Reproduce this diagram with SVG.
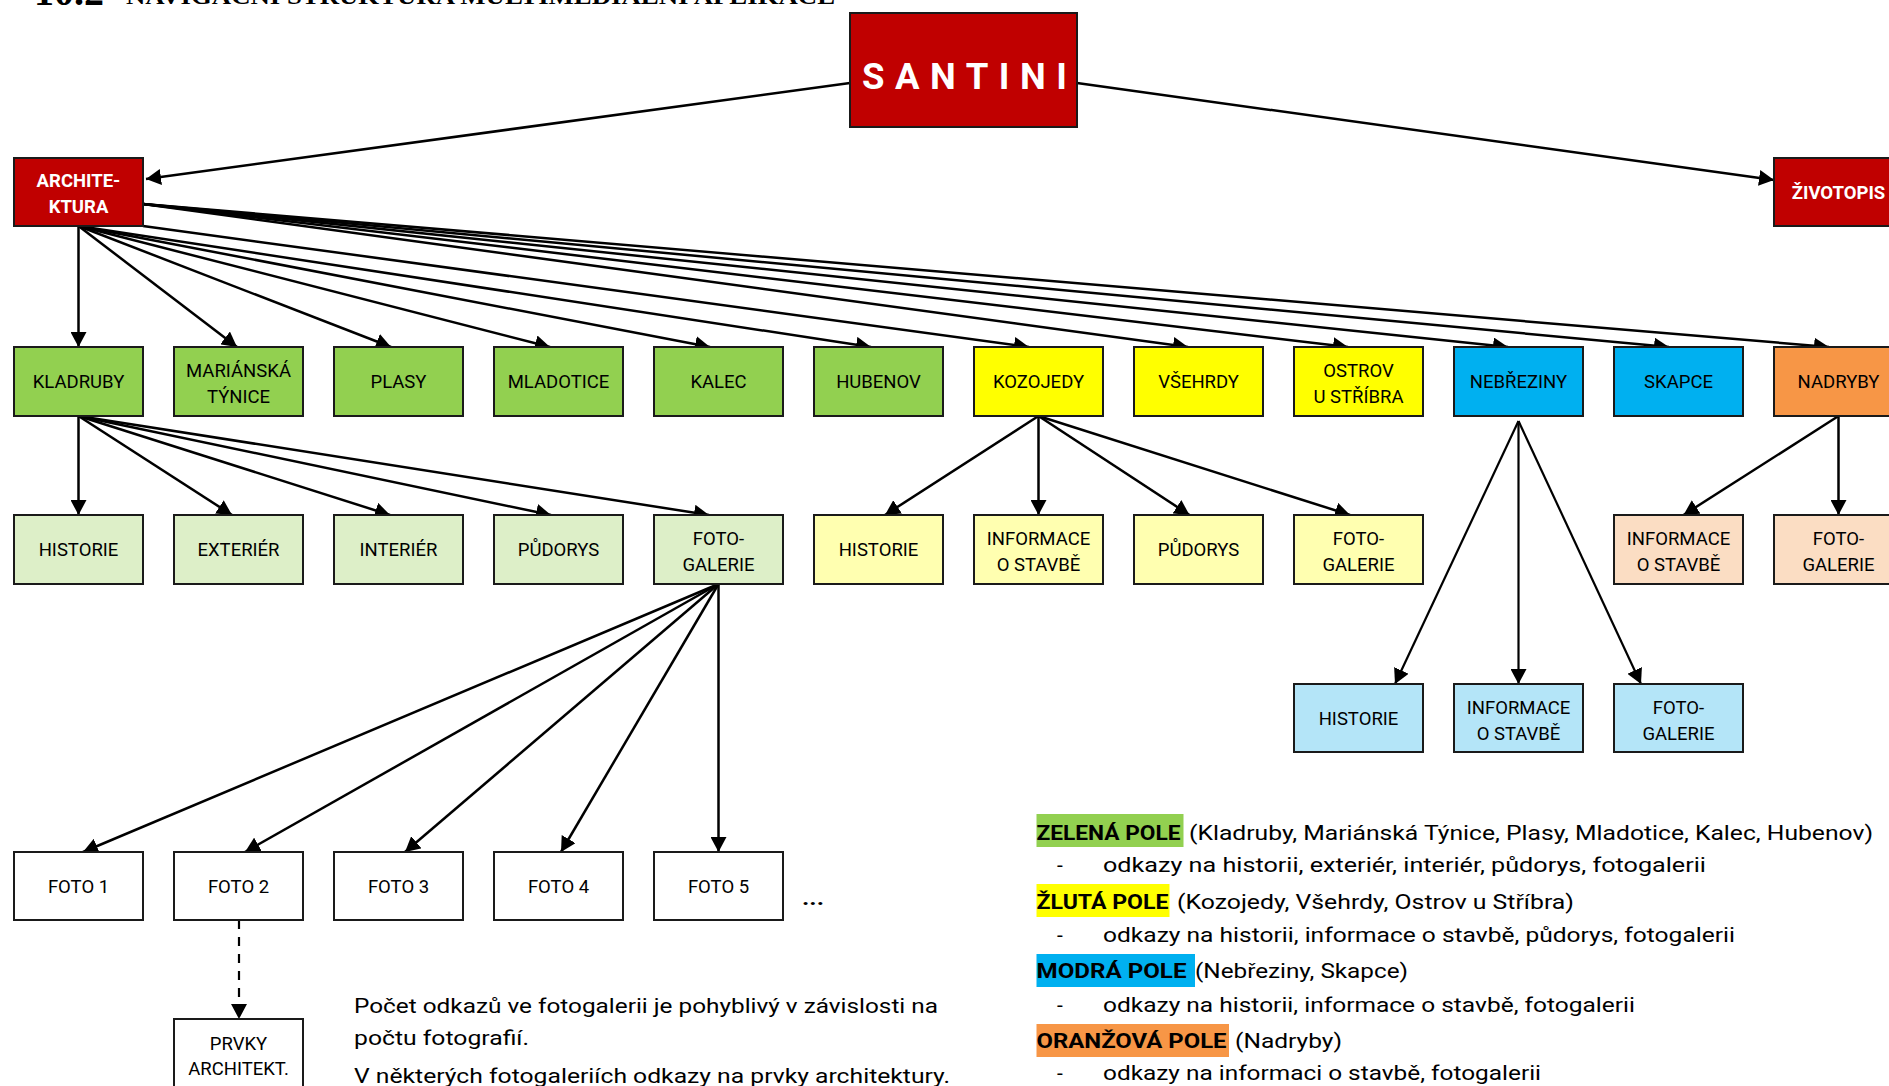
<svg xmlns="http://www.w3.org/2000/svg" width="1889" height="1086" viewBox="0 0 1889 1086">
<style>
.box{stroke:#1a1a1a;stroke-width:2}
.red{fill:#C00000}
.g{fill:#92D050}.lg{fill:#DDEFC8}
.y{fill:#FFFF00}.ly{fill:#FFFFB0}
.b{fill:#00B0F0}.lb{fill:#B4E5F8}
.o{fill:#F79646}.lo{fill:#FBDDC3}
.w{fill:#FFFFFF}
.t{font-family:Roboto,"Liberation Sans",sans-serif;font-size:18.5px;fill:#000;text-anchor:middle}
.tw{font-family:Roboto,"Liberation Sans",sans-serif;font-size:18.5px;fill:#fff;font-weight:bold;text-anchor:middle}
.lt{font-family:Roboto,"Liberation Sans",sans-serif;font-size:21px;fill:#000}
.lb2{font-family:Roboto,"Liberation Sans",sans-serif;font-size:21px;fill:#000;font-weight:bold}
.c{stroke:#000;stroke-width:2.5;fill:none;marker-end:url(#ah)}
.cn{stroke:#000;stroke-width:2.2;fill:none;marker-end:url(#ah)}
.cd{stroke:#000;stroke-width:2.2;fill:none;stroke-dasharray:9 8;marker-end:url(#ah)}
</style>
<defs>
<marker id="ah" markerUnits="userSpaceOnUse" markerWidth="16" markerHeight="16" refX="15" refY="8" orient="auto">
<path d="M0,0 L15,8 L0,16 z" fill="#000"/>
</marker>
</defs>
<rect width="1889" height="1086" fill="#fff"/>

<g id="title">
<text x="34" y="5" font-family="'Liberation Serif',serif" font-weight="bold" font-size="40">10.2</text>
<text x="126" y="4" font-family="'Liberation Serif',serif" font-weight="bold" font-size="24" textLength="709" lengthAdjust="spacingAndGlyphs">NAVIGAČNÍ STRUKTURA MULTIMEDIÁLNÍ APLIKACE</text>
</g>

<g id="connectors">
<line class="c" x1="850" y1="83" x2="146" y2="179"/>
<line class="c" x1="1077" y1="83" x2="1774" y2="180"/>
<line class="c" x1="78.5" y1="226" x2="78.5" y2="347"/>
<line class="c" x1="78.5" y1="226" x2="237" y2="347"/>
<line class="c" x1="78.5" y1="226" x2="391" y2="347"/>
<line class="c" x1="78.5" y1="226" x2="550" y2="347"/>
<line class="c" x1="78.5" y1="226" x2="710" y2="347"/>
<line class="c" x1="78.5" y1="226" x2="871" y2="347"/>
<line class="c" x1="143" y1="226" x2="1029" y2="347"/>
<line class="c" x1="143" y1="204" x2="1188" y2="347"/>
<line class="c" x1="143" y1="204" x2="1348" y2="347"/>
<line class="c" x1="143" y1="204" x2="1508" y2="347"/>
<line class="c" x1="143" y1="204" x2="1669" y2="347"/>
<line class="c" x1="143" y1="204" x2="1829" y2="347"/>
<line class="c" x1="78.5" y1="416" x2="78.5" y2="515"/>
<line class="c" x1="78.5" y1="416" x2="232" y2="515"/>
<line class="c" x1="78.5" y1="416" x2="390" y2="515"/>
<line class="c" x1="78.5" y1="416" x2="551" y2="515"/>
<line class="c" x1="78.5" y1="416" x2="709" y2="515"/>
<line class="c" x1="1038.5" y1="416" x2="885" y2="515"/>
<line class="c" x1="1038.5" y1="416" x2="1038.5" y2="515"/>
<line class="c" x1="1038.5" y1="416" x2="1189.5" y2="515"/>
<line class="c" x1="1038.5" y1="416" x2="1350" y2="515"/>
<line class="cn" x1="1518.5" y1="421" x2="1395" y2="684"/>
<line class="cn" x1="1518.5" y1="421" x2="1518.5" y2="684"/>
<line class="cn" x1="1518.5" y1="421" x2="1641" y2="684"/>
<line class="c" x1="1838.5" y1="416" x2="1683.5" y2="515"/>
<line class="c" x1="1838.5" y1="416" x2="1838.5" y2="515"/>
<line class="c" x1="718.5" y1="584" x2="83" y2="852"/>
<line class="c" x1="718.5" y1="584" x2="245" y2="852"/>
<line class="c" x1="718.5" y1="584" x2="405" y2="852"/>
<line class="c" x1="718.5" y1="584" x2="561" y2="852"/>
<line class="c" x1="718.5" y1="584" x2="718.5" y2="852"/>
<line class="cd" x1="239" y1="920" x2="239" y2="1019"/>
</g>

<g id="santini"><rect class="box red" x="850" y="13" width="227" height="114"/>
<text x="862" y="89" font-family="Roboto,'Liberation Sans',sans-serif" font-weight="bold" font-size="36.5" fill="#fff" letter-spacing="10.5">SANTINI</text></g>
<g id="architektura"><rect class="box red" x="14" y="158" width="129" height="68"/>
<text class="tw" x="78.5" y="187">ARCHITE-</text><text class="tw" x="78.5" y="213">KTURA</text></g>
<g id="zivotopis"><rect class="box red" x="1774" y="158" width="129" height="68"/>
<text class="tw" x="1838.5" y="199">ŽIVOTOPIS</text></g>

<g id="kladruby"><rect class="box g" x="14" y="347" width="129" height="69"/><text class="t" x="78.5" y="388">KLADRUBY</text></g>
<g id="marianska"><rect class="box g" x="174" y="347" width="129" height="69"/><text class="t" x="238.5" y="377">MARIÁNSKÁ</text><text class="t" x="238.5" y="403">TÝNICE</text></g>
<g id="plasy"><rect class="box g" x="334" y="347" width="129" height="69"/><text class="t" x="398.5" y="388">PLASY</text></g>
<g id="mladotice"><rect class="box g" x="494" y="347" width="129" height="69"/><text class="t" x="558.5" y="388">MLADOTICE</text></g>
<g id="kalec"><rect class="box g" x="654" y="347" width="129" height="69"/><text class="t" x="718.5" y="388">KALEC</text></g>
<g id="hubenov"><rect class="box g" x="814" y="347" width="129" height="69"/><text class="t" x="878.5" y="388">HUBENOV</text></g>
<g id="kozojedy"><rect class="box y" x="974" y="347" width="129" height="69"/><text class="t" x="1038.5" y="388">KOZOJEDY</text></g>
<g id="vsehrdy"><rect class="box y" x="1134" y="347" width="129" height="69"/><text class="t" x="1198.5" y="388">VŠEHRDY</text></g>
<g id="ostrov"><rect class="box y" x="1294" y="347" width="129" height="69"/><text class="t" x="1358.5" y="377">OSTROV</text><text class="t" x="1358.5" y="403">U STŘÍBRA</text></g>
<g id="nebreziny"><rect class="box b" x="1454" y="347" width="129" height="69"/><text class="t" x="1518.5" y="388">NEBŘEZINY</text></g>
<g id="skapce"><rect class="box b" x="1614" y="347" width="129" height="69"/><text class="t" x="1678.5" y="388">SKAPCE</text></g>
<g id="nadryby"><rect class="box o" x="1774" y="347" width="129" height="69"/><text class="t" x="1838.5" y="388">NADRYBY</text></g>

<g id="kl-historie"><rect class="box lg" x="14" y="515" width="129" height="69"/><text class="t" x="78.5" y="556">HISTORIE</text></g>
<g id="kl-exterier"><rect class="box lg" x="174" y="515" width="129" height="69"/><text class="t" x="238.5" y="556">EXTERIÉR</text></g>
<g id="kl-interier"><rect class="box lg" x="334" y="515" width="129" height="69"/><text class="t" x="398.5" y="556">INTERIÉR</text></g>
<g id="kl-pudorys"><rect class="box lg" x="494" y="515" width="129" height="69"/><text class="t" x="558.5" y="556">PŮDORYS</text></g>
<g id="kl-fotogalerie"><rect class="box lg" x="654" y="515" width="129" height="69"/><text class="t" x="718.5" y="545">FOTO-</text><text class="t" x="718.5" y="571">GALERIE</text></g>
<g id="ko-historie"><rect class="box ly" x="814" y="515" width="129" height="69"/><text class="t" x="878.5" y="556">HISTORIE</text></g>
<g id="ko-informace"><rect class="box ly" x="974" y="515" width="129" height="69"/><text class="t" x="1038.5" y="545">INFORMACE</text><text class="t" x="1038.5" y="571">O STAVBĚ</text></g>
<g id="ko-pudorys"><rect class="box ly" x="1134" y="515" width="129" height="69"/><text class="t" x="1198.5" y="556">PŮDORYS</text></g>
<g id="ko-fotogalerie"><rect class="box ly" x="1294" y="515" width="129" height="69"/><text class="t" x="1358.5" y="545">FOTO-</text><text class="t" x="1358.5" y="571">GALERIE</text></g>
<g id="na-informace"><rect class="box lo" x="1614" y="515" width="129" height="69"/><text class="t" x="1678.5" y="545">INFORMACE</text><text class="t" x="1678.5" y="571">O STAVBĚ</text></g>
<g id="na-fotogalerie"><rect class="box lo" x="1774" y="515" width="129" height="69"/><text class="t" x="1838.5" y="545">FOTO-</text><text class="t" x="1838.5" y="571">GALERIE</text></g>

<g id="ne-historie"><rect class="box lb" x="1294" y="684" width="129" height="68"/><text class="t" x="1358.5" y="725">HISTORIE</text></g>
<g id="ne-informace"><rect class="box lb" x="1454" y="684" width="129" height="68"/><text class="t" x="1518.5" y="714">INFORMACE</text><text class="t" x="1518.5" y="740">O STAVBĚ</text></g>
<g id="ne-fotogalerie"><rect class="box lb" x="1614" y="684" width="129" height="68"/><text class="t" x="1678.5" y="714">FOTO-</text><text class="t" x="1678.5" y="740">GALERIE</text></g>

<g id="foto1"><rect class="box w" x="14" y="852" width="129" height="68"/><text class="t" x="78.5" y="893">FOTO 1</text></g>
<g id="foto2"><rect class="box w" x="174" y="852" width="129" height="68"/><text class="t" x="238.5" y="893">FOTO 2</text></g>
<g id="foto3"><rect class="box w" x="334" y="852" width="129" height="68"/><text class="t" x="398.5" y="893">FOTO 3</text></g>
<g id="foto4"><rect class="box w" x="494" y="852" width="129" height="68"/><text class="t" x="558.5" y="893">FOTO 4</text></g>
<g id="foto5"><rect class="box w" x="654" y="852" width="129" height="68"/><text class="t" x="718.5" y="893">FOTO 5</text></g>
<text class="lb2" x="802" y="905" font-size="26" textLength="22" lengthAdjust="spacingAndGlyphs">...</text>
<g id="prvky"><rect class="box w" x="174" y="1019" width="129" height="80"/><text class="t" x="238.5" y="1050">PRVKY</text><text class="t" x="238.5" y="1075">ARCHITEKT.</text></g>

<g id="note">
<text class="lt" x="354" y="1013" textLength="584" lengthAdjust="spacingAndGlyphs">Počet odkazů ve fotogalerii je pohyblivý v závislosti na</text>
<text class="lt" x="354" y="1045" textLength="175" lengthAdjust="spacingAndGlyphs">počtu fotografií.</text>
<text class="lt" x="354" y="1083" textLength="596" lengthAdjust="spacingAndGlyphs">V některých fotogaleriích odkazy na prvky architektury.</text>
</g>

<g id="legend">
<rect x="1036.5" y="814" width="147" height="33" fill="#92D050"/>
<text class="lb2" x="1036.5" y="840" textLength="144" lengthAdjust="spacingAndGlyphs">ZELENÁ POLE</text>
<text class="lt" x="1189" y="840" textLength="684" lengthAdjust="spacingAndGlyphs">(Kladruby, Mariánská Týnice, Plasy, Mladotice, Kalec, Hubenov)</text>
<text class="lt" x="1057" y="872">-</text>
<text class="lt" x="1103" y="872" textLength="603" lengthAdjust="spacingAndGlyphs">odkazy na historii, exteriér, interiér, půdorys, fotogalerii</text>

<rect x="1036.5" y="884" width="133" height="33" fill="#FFFF00"/>
<text class="lb2" x="1036.5" y="909" textLength="132" lengthAdjust="spacingAndGlyphs">ŽLUTÁ POLE</text>
<text class="lt" x="1177" y="909" textLength="397" lengthAdjust="spacingAndGlyphs">(Kozojedy, Všehrdy, Ostrov u Stříbra)</text>
<text class="lt" x="1057" y="942">-</text>
<text class="lt" x="1103" y="942" textLength="632" lengthAdjust="spacingAndGlyphs">odkazy na historii, informace o stavbě, půdorys, fotogalerii</text>

<rect x="1036.5" y="954" width="158.5" height="33" fill="#00B0F0"/>
<text class="lb2" x="1036.5" y="978" textLength="150" lengthAdjust="spacingAndGlyphs">MODRÁ POLE</text>
<text class="lt" x="1195" y="978" textLength="213" lengthAdjust="spacingAndGlyphs">(Nebřeziny, Skapce)</text>
<text class="lt" x="1057" y="1012">-</text>
<text class="lt" x="1103" y="1012" textLength="532" lengthAdjust="spacingAndGlyphs">odkazy na historii, informace o stavbě, fotogalerii</text>

<rect x="1036.5" y="1024" width="192.5" height="33" fill="#F79646"/>
<text class="lb2" x="1036.5" y="1048" textLength="190" lengthAdjust="spacingAndGlyphs">ORANŽOVÁ POLE</text>
<text class="lt" x="1235" y="1048" textLength="107" lengthAdjust="spacingAndGlyphs">(Nadryby)</text>
<text class="lt" x="1057" y="1080">-</text>
<text class="lt" x="1103" y="1080" textLength="438" lengthAdjust="spacingAndGlyphs">odkazy na informaci o stavbě, fotogalerii</text>
</g>
</svg>
